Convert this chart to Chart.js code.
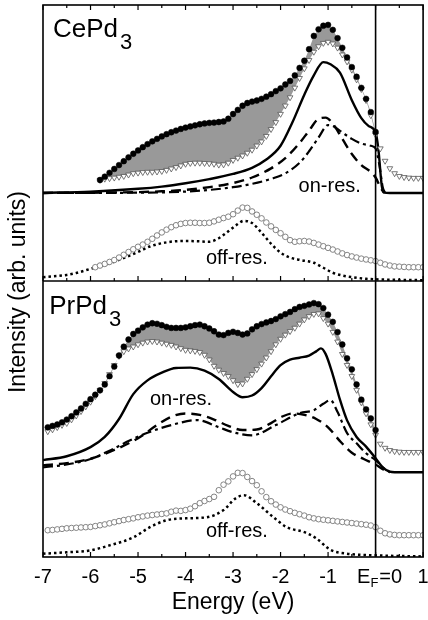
<!DOCTYPE html>
<html>
<head>
<meta charset="utf-8">
<script src="https://cdn.jsdelivr.net/npm/chart.js@4.4.1/dist/chart.umd.min.js"></script>
<style>
body { margin: 0; background: #fff; }
</style>
</head>
<body>
<canvas id="chart" width="428" height="620"></canvas>
<script>
var FONT = '"Liberation Sans", Arial, Helvetica, sans-serif';

// y axis: lower panel (PrPd3) is 0..10, upper panel (CePd3) is 10..20
var panelSplit = 10;

// ---- CePd3 (upper panel) ----
// energy grid of the measured points (eV)
var ceGrid = [-5.9,-5.8,-5.7,-5.6,-5.5,-5.4,-5.3,-5.2,-5.1,-5.0,
              -4.9,-4.8,-4.7,-4.6,-4.5,-4.4,-4.3,-4.2,-4.1,-4.0,
              -3.9,-3.8,-3.7,-3.6,-3.5,-3.4,-3.3,-3.2,-3.1,-3.0,
              -2.9,-2.8,-2.7,-2.6,-2.5,-2.4,-2.3,-2.2,-2.1,-2.0,
              -1.9,-1.8,-1.7,-1.6,-1.5,-1.4,-1.3,-1.2,-1.1,-1.0,
              -0.9,-0.8,-0.7,-0.6,-0.5,-0.4,-0.3,-0.2,-0.1,0.0,
              0.1,0.2,0.3,0.4,0.5,0.6,0.7,0.8,0.9,1.0];
// on-resonance spectrum (filled circles)
var ceOnRes = [null,13.66,13.78,13.92,14.06,14.20,14.34,14.48,14.61,14.73,
               14.85,14.96,15.06,15.15,15.24,15.32,15.39,15.45,15.51,15.56,
               15.60,15.64,15.68,15.71,15.73,15.74,15.76,15.78,15.88,16.05,
               16.20,16.35,16.45,16.50,16.54,16.60,16.68,16.77,16.88,16.98,
               17.12,17.25,17.45,17.72,17.98,18.40,18.88,19.12,19.25,19.28,
               19.10,18.80,18.45,18.10,17.75,17.40,17.00,16.60,16.12,15.40,
               null,null,null,null,null,null,null,null,null,null];
// open triangles
var ceOnBg = [null,13.66,13.70,13.72,13.74,13.77,13.80,13.85,13.90,13.92,
              13.94,13.95,13.95,13.96,13.98,14.02,14.07,14.12,14.18,14.24,
              14.27,14.28,14.28,14.27,14.26,14.24,14.21,14.22,14.28,14.38,
              14.46,14.54,14.64,14.75,14.90,15.05,15.25,15.50,15.75,16.05,
              16.35,16.65,17.00,17.35,17.70,18.00,18.30,18.50,18.62,18.66,
              18.60,18.45,18.20,17.95,17.65,17.30,16.95,16.55,16.00,15.30,
              14.80,14.35,14.08,13.90,13.80,13.76,13.74,13.73,13.73,13.73];
// off-resonance spectrum (open circles)
var ceOffRes = [10.50,10.56,10.62,10.69,10.76,10.85,10.95,11.05,11.15,11.24,
                11.32,11.42,11.53,11.65,11.76,11.86,11.95,12.02,12.07,12.10,
                12.11,12.11,12.10,12.10,12.11,12.16,12.22,12.28,12.33,12.42,
                12.55,12.66,12.65,12.52,12.40,12.27,12.12,11.98,11.85,11.73,
                11.60,11.48,11.42,11.44,11.45,11.43,11.38,11.32,11.26,11.20,
                11.14,11.07,11.00,10.94,10.89,10.85,10.81,10.78,10.75,10.72,
                10.66,10.60,10.56,10.53,10.52,10.51,10.50,10.50,10.50,10.50];

var ceSolidE = [-7,-6,-5,-4.5,-4,-3.5,-3,-2.6,-2.3,-2.0,-1.75,-1.5,-1.3,-1.1,-0.95,-0.75,-0.5,-0.3,-0.15,0,0.06,0.13,0.18,0.3,1];
var ceSolid = [13.19,13.24,13.34,13.42,13.54,13.69,13.88,14.10,14.40,14.90,15.75,16.75,17.45,17.93,17.85,17.55,16.55,15.90,15.62,15.38,14.75,13.45,13.20,13.19,13.19];
var ceDashE = [-7,-6,-5,-4.5,-4,-3.5,-3,-2.6,-2.2,-1.9,-1.6,-1.4,-1.2,-1.05,-0.9,-0.7,-0.5,-0.3,-0.1,0,0.1,0.18];
var ceDash = [13.19,13.20,13.22,13.25,13.30,13.40,13.55,13.75,14.08,14.45,15.00,15.45,15.88,15.92,15.70,15.15,14.60,14.20,13.95,13.75,13.40,13.19];
var ceDotDashE = [-7,-6,-5,-4.5,-4,-3.5,-3,-2.6,-2.2,-1.9,-1.6,-1.4,-1.2,-1.0,-0.9,-0.7,-0.5,-0.3,-0.1,0,0.08,0.15,0.2];
var ceDotDash = [13.19,13.19,13.20,13.21,13.24,13.30,13.40,13.52,13.70,13.90,14.28,14.70,15.20,15.65,15.62,15.38,15.15,14.98,14.90,14.80,14.20,13.40,13.19];
var ceDotE = [-7,-6.5,-6.3,-6,-5.5,-5.25,-5,-4.75,-4.4,-4.05,-3.75,-3.5,-3.3,-3.1,-2.95,-2.77,-2.6,-2.4,-2.2,-2.0,-1.8,-1.58,-1.3,-1.1,-0.9,-0.7,-0.45,-0.2,0,0.5,1];
var ceDot = [10.14,10.22,10.29,10.44,10.70,10.87,11.05,11.25,11.40,11.45,11.44,11.42,11.55,11.80,12.00,12.18,12.10,11.75,11.35,11.03,10.85,10.76,10.66,10.48,10.30,10.20,10.13,10.08,10.06,10.04,10.03];

// ---- PrPd3 (lower panel) ----
var prGrid = [-6.9,-6.8,-6.7,-6.6,-6.5,-6.4,-6.3,-6.2,-6.1,-6.0,
              -5.9,-5.8,-5.7,-5.6,-5.5,-5.4,-5.3,-5.2,-5.1,-5.0,
              -4.9,-4.8,-4.7,-4.6,-4.5,-4.4,-4.3,-4.2,-4.1,-4.0,
              -3.9,-3.8,-3.7,-3.6,-3.5,-3.4,-3.3,-3.2,-3.1,-3.0,
              -2.9,-2.8,-2.7,-2.6,-2.5,-2.4,-2.3,-2.2,-2.1,-2.0,
              -1.9,-1.8,-1.7,-1.6,-1.5,-1.4,-1.3,-1.2,-1.1,-1.0,
              -0.9,-0.8,-0.7,-0.6,-0.5,-0.4,-0.3,-0.2,-0.1,0.0,
              0.1,0.2,0.3,0.4,0.5,0.6,0.7,0.8,0.9,1.0];
var prOnRes = [4.70,4.75,4.80,4.88,4.98,5.10,5.24,5.38,5.55,5.72,
               5.88,6.04,6.25,6.55,6.90,7.30,7.62,7.88,8.08,8.20,
               8.32,8.42,8.47,8.45,8.40,8.34,8.30,8.30,8.30,8.32,
               8.36,8.40,8.42,8.36,8.28,8.18,8.06,8.04,8.12,8.16,
               8.12,8.06,8.10,8.25,8.36,8.44,8.50,8.55,8.62,8.72,
               8.80,8.88,8.98,9.06,9.10,9.15,9.20,9.16,9.02,8.78,
               8.52,8.15,7.70,7.20,6.80,6.25,5.70,5.35,5.02,4.60,
               null,null,null,null,null,null,null,null,null,null];
var prOnBg = [4.55,4.62,4.70,4.78,4.85,4.98,5.12,5.28,5.45,5.62,
              5.82,6.05,6.30,6.62,6.95,7.28,7.45,7.55,7.62,7.70,
              7.76,7.80,7.82,7.80,7.76,7.72,7.68,7.62,7.56,7.50,
              7.48,7.46,7.42,7.32,7.15,6.92,6.78,6.66,6.55,6.40,
              6.26,6.28,6.45,6.62,6.80,7.00,7.22,7.45,7.70,7.90,
              8.05,8.18,8.30,8.45,8.60,8.72,8.80,8.82,8.65,8.45,
              8.15,7.80,7.35,6.95,6.55,6.05,5.60,5.20,4.80,4.42,
              4.10,3.95,3.87,3.83,3.81,3.80,3.80,3.80,3.80,3.80];
var prOffRes = [0.97,0.98,1.00,1.02,1.04,1.05,1.06,1.07,1.08,1.09,
                1.12,1.15,1.18,1.22,1.26,1.30,1.34,1.37,1.40,1.44,
                1.47,1.50,1.52,1.54,1.56,1.58,1.64,1.68,1.67,1.70,
                1.75,1.84,1.95,2.03,2.10,2.18,2.42,2.62,2.74,2.92,
                3.05,3.04,2.90,2.75,2.60,2.38,2.17,2.02,1.90,1.80,
                1.72,1.66,1.60,1.55,1.50,1.44,1.40,1.37,1.35,1.33,
                1.31,1.29,1.27,1.25,1.23,1.21,1.19,1.17,1.14,1.08,
                0.95,0.86,0.82,0.80,0.79,0.79,0.79,0.79,0.79,0.79];

var prSolidE = [-7,-6.5,-6.0,-5.7,-5.4,-5.1,-4.8,-4.5,-4.2,-3.9,-3.6,-3.3,-3.0,-2.8,-2.6,-2.4,-2.2,-2.0,-1.8,-1.6,-1.4,-1.25,-1.15,-1.05,-0.9,-0.75,-0.6,-0.4,-0.2,0,0.15,0.3,0.4,1];
var prSolid = [3.51,3.65,3.98,4.35,5.00,5.90,6.40,6.68,6.85,6.86,6.75,6.45,5.98,5.79,5.85,6.12,6.55,6.95,7.15,7.22,7.30,7.45,7.56,7.35,6.60,5.70,4.95,4.35,4.00,3.58,3.25,3.09,3.07,3.07];
var prDashE = [-7,-6.5,-6,-5.5,-5,-4.6,-4.3,-4.0,-3.7,-3.4,-3.1,-2.8,-2.5,-2.2,-1.95,-1.75,-1.5,-1.25,-1.0,-0.75,-0.5,-0.25,0,0.15,0.3];
var prDash = [3.32,3.40,3.56,3.88,4.30,4.78,5.08,5.20,5.15,4.98,4.75,4.60,4.62,4.85,5.10,5.20,5.15,5.00,4.70,4.20,3.78,3.55,3.35,3.18,3.07];
var prDotDashE = [-7,-6.5,-6,-5.6,-5.2,-4.8,-4.3,-3.75,-3.3,-3.0,-2.6,-2.1,-1.6,-1.3,-1.1,-0.95,-0.8,-0.6,-0.4,-0.2,0,0.15,0.3];
var prDotDash = [3.25,3.35,3.55,3.85,4.20,4.50,4.78,4.96,4.70,4.52,4.41,4.78,5.21,5.32,5.55,5.68,5.25,4.49,4.12,3.76,3.51,3.25,3.07];
var prDotE = [-7,-6.5,-6,-5.6,-5.1,-4.75,-4.4,-4,-3.55,-3.2,-2.95,-2.77,-2.5,-2.15,-1.87,-1.5,-1.25,-0.95,-0.6,0,1];
var prDot = [0.12,0.17,0.24,0.42,0.71,1.08,1.33,1.40,1.44,1.70,2.12,2.24,1.95,1.44,1.08,0.90,0.68,0.26,0.12,0.06,0.02];

// text labels
var sampleLabels = [
    {name: 'CePd', sub: '3', x: -6.79, y: 18.84},
    {name: 'PrPd', sub: '3', x: -6.87, y: 8.80}
];
var curveLabels = [
    {text: 'on-res.', x: -1.62, y: 13.22},
    {text: 'off-res.', x: -3.57, y: 10.61},
    {text: 'on-res.', x: -4.75, y: 5.50},
    {text: 'off-res.', x: -3.57, y: 0.71}
];

function pairs(xs, ys) {
    return xs.map((x, i) => ({x: x, y: ys[i]}));
}

function filledCircles(xs, ys) {
    return {
        data: pairs(xs, ys), showLine: false, borderWidth: 0,
        pointStyle: 'circle', pointRadius: 2.9,
        pointBackgroundColor: '#000', pointBorderColor: '#000', pointBorderWidth: 0.5,
        fill: '+1', backgroundColor: '#999999'
    };
}

function openTriangles(xs, ys) {
    return {
        data: pairs(xs, ys), showLine: false, borderWidth: 0,
        pointStyle: 'triangle', rotation: 180, pointRadius: 3.3,
        pointBackgroundColor: '#fff', pointBorderColor: '#555', pointBorderWidth: 0.8
    };
}

function openCircles(xs, ys) {
    return {
        data: pairs(xs, ys), showLine: false, borderWidth: 0,
        pointStyle: 'circle', pointRadius: 2.8,
        pointBackgroundColor: '#fff', pointBorderColor: '#777', pointBorderWidth: 0.9
    };
}

function curve(xs, ys, dash, width) {
    return {
        data: pairs(xs, ys), borderColor: '#000', borderWidth: width,
        borderDash: dash, borderCapStyle: 'butt',
        pointRadius: 0, cubicInterpolationMode: 'monotone', fill: false
    };
}

function line(ctx, x1, y1, x2, y2) {
    ctx.beginPath();
    ctx.moveTo(x1, y1);
    ctx.lineTo(x2, y2);
    ctx.stroke();
}

// frame, ticks and the texts
var framePlugin = {
    id: 'frame',
    afterDatasetsDraw: function(chart) {
        var ctx = chart.ctx;
        var a = chart.chartArea;
        var xs = chart.scales.x;
        var ys = chart.scales.y;
        var yMid = ys.getPixelForValue(panelSplit);
        var x0 = xs.getPixelForValue(0);

        ctx.save();
        ctx.strokeStyle = '#000';
        ctx.lineWidth = 1.6;
        ctx.strokeRect(a.left, a.top, a.right - a.left, a.bottom - a.top);
        line(ctx, a.left, yMid, a.right, yMid);
        line(ctx, x0, a.top, x0, a.bottom);

        // inward ticks, major on the scale ticks, minor half way
        ctx.lineWidth = 1.2;
        var ticks = xs.ticks;
        for (var i = 0; i < ticks.length; i++) {
            var px = xs.getPixelForValue(ticks[i].value);
            line(ctx, px, a.bottom, px, a.bottom - 5);
            line(ctx, px, yMid, px, yMid - 5);
            line(ctx, px, a.top, px, a.top + 5);
            if (i < ticks.length - 1) {
                var pm = xs.getPixelForValue((ticks[i].value + ticks[i + 1].value) / 2);
                line(ctx, pm, a.bottom, pm, a.bottom - 3);
                line(ctx, pm, yMid, pm, yMid - 3);
                line(ctx, pm, a.top, pm, a.top + 3);
            }
        }

        ctx.fillStyle = '#000';
        ctx.textBaseline = 'alphabetic';
        ctx.textAlign = 'left';

        sampleLabels.forEach(function(s) {
            var px = xs.getPixelForValue(s.x);
            var py = ys.getPixelForValue(s.y);
            ctx.font = '26px ' + FONT;
            ctx.fillText(s.name, px, py);
            var w = ctx.measureText(s.name).width;
            ctx.font = '22px ' + FONT;
            ctx.fillText(s.sub, px + w + 2, py + 12);
        });

        ctx.font = '20px ' + FONT;
        curveLabels.forEach(function(c) {
            ctx.fillText(c.text, xs.getPixelForValue(c.x), ys.getPixelForValue(c.y));
        });

        // E_F = 0 tick label
        var ty = a.bottom + 8 + 12;
        ctx.textBaseline = 'middle';
        ctx.font = '20px ' + FONT;
        var wE = ctx.measureText('E').width;
        var wEq = ctx.measureText('=0').width;
        ctx.font = '13px ' + FONT;
        var wF = ctx.measureText('F').width;
        var sx = x0 + 4 - (wE + wF + wEq + 1) / 2;
        ctx.font = '20px ' + FONT;
        ctx.fillText('E', sx, ty);
        ctx.font = '13px ' + FONT;
        ctx.fillText('F', sx + wE, ty + 6);
        ctx.font = '20px ' + FONT;
        ctx.fillText('=0', sx + wE + wF + 1, ty);

        // y axis title
        ctx.translate(19, a.top + (a.bottom - a.top) * 0.52);
        ctx.rotate(-Math.PI / 2);
        ctx.textAlign = 'center';
        ctx.font = '23px ' + FONT;
        ctx.fillText('Intensity (arb. units)', 0, 0);
        ctx.restore();
    }
};

new Chart(document.getElementById('chart'), {
    type: 'line',
    data: {
        datasets: [
            filledCircles(ceGrid, ceOnRes),
            openTriangles(ceGrid, ceOnBg),
            openCircles(ceGrid, ceOffRes),
            filledCircles(prGrid, prOnRes),
            openTriangles(prGrid, prOnBg),
            openCircles(prGrid, prOffRes),
            curve(ceSolidE, ceSolid, [], 2.4),
            curve(ceDashE, ceDash, [10, 6], 2.4),
            curve(ceDotDashE, ceDotDash, [10, 4, 3, 4], 2.2),
            curve(ceDotE, ceDot, [2.5, 3], 2.5),
            curve(prSolidE, prSolid, [], 2.4),
            curve(prDashE, prDash, [10, 6], 2.4),
            curve(prDotDashE, prDotDash, [10, 4, 3, 4], 2.2),
            curve(prDotE, prDot, [2.5, 3], 2.5)
        ]
    },
    options: {
        responsive: false,
        animation: false,
        layout: { padding: { left: 43, right: 4, top: 5, bottom: 0 } },
        plugins: {
            legend: { display: false },
            tooltip: { enabled: false },
            filler: { drawTime: 'beforeDatasetsDraw' }
        },
        scales: {
            x: {
                type: 'linear', min: -7, max: 1,
                afterFit: function(s) { s.height = 63; s.paddingLeft = 0; s.paddingRight = 0; },
                grid: { display: false, drawTicks: false },
                border: { display: false },
                ticks: {
                    stepSize: 1, padding: 8, maxRotation: 0, autoSkip: false, color: '#000',
                    font: { family: FONT, size: 20 },
                    callback: function(v) { return v === 0 ? '' : String(v); }
                },
                title: {
                    display: true, text: 'Energy (eV)', color: '#000',
                    font: { family: FONT, size: 23 },
                    padding: { top: 0, bottom: 4 }
                }
            },
            y: { display: false, min: 0, max: 20 }
        }
    },
    plugins: [framePlugin]
});
</script>
</body>
</html>
